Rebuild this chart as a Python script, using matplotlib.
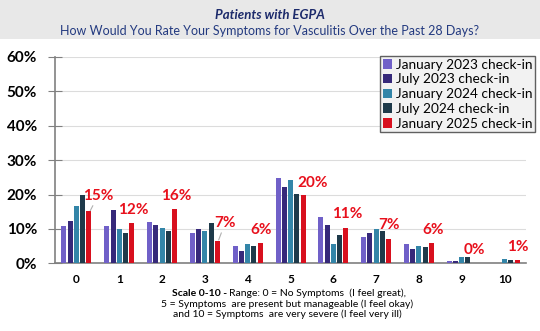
import numpy as np
import matplotlib.pyplot as plt
from matplotlib.patches import Rectangle

plt.rcParams['font.family'] = ['Lato', 'DejaVu Sans']

categories = ['0', '1', '2', '3', '4', '5', '6', '7', '8', '9', '10']
series_names = ['January 2023 check-in', 'July 2023 check-in', 'January 2024 check-in',
                'July 2024 check-in', 'January 2025 check-in']
jan23 = [10.9, 10.9, 12.1, 8.9, 5.1, 24.8, 13.4, 7.7, 5.7, 0.7, 0.0]
jul23 = [12.3, 15.5, 11.1, 10.0, 3.7, 22.3, 11.1, 8.7, 4.3, 0.7, 0.0]
jan24 = [16.8, 10.0, 10.4, 9.4, 5.5, 24.3, 5.5, 10.0, 4.9, 1.8, 1.3]
jul24 = [19.8, 8.7, 9.4, 11.6, 5.1, 20.2, 8.1, 9.4, 4.7, 1.7, 1.1]
jan25 = [15.1, 11.7, 15.7, 6.6, 5.9, 19.8, 10.4, 7.2, 6.0, 0.0, 1.1]
labels_2025 = ['15%', '12%', '16%', '7%', '6%', '20%', '11%', '7%', '6%', '0%', '1%']
# label positions (x offset from group centre, y in %)
label_x = [0.50, 0.33, 0.32, 0.47, 0.32, 0.52, 0.33, 0.30, 0.32, 0.30, 0.31]
label_y = [19.6, 15.5, 19.6, 11.7, 9.7, 23.4, 14.4, 11.2, 9.7, 3.9, 4.8]
leader = [True, False, False, True, False, False, False, False, False, False, False]

colors = ['#7060c8', '#36297a', '#3385a8', '#1e3a4a', '#d8101e']
all_series = [jan23, jul23, jan24, jul24, jan25]

fig = plt.figure(figsize=(5.4, 3.31), dpi=100)
fig.patches.append(Rectangle((0, 0.882), 1, 0.118, transform=fig.transFigure,
                             facecolor='#e8e8e8', edgecolor='none', zorder=0))
fig.text(0.5, 0.955, 'Patients with EGPA', ha='center', va='center',
         fontsize=9.5, fontweight='bold', fontstyle='italic', color='#1c2a6b')
fig.text(0.5, 0.906, 'How Would You Rate Your Symptoms for Vasculitis Over the Past 28 Days?',
         ha='center', va='center', fontsize=9, color='#233a80')

ax = fig.add_axes([0.102, 0.2045, 0.872, 0.6235])
x = np.arange(len(categories))
w = 0.146
for i, (vals, name, c) in enumerate(zip(all_series, series_names, colors)):
    ax.bar(x + (i - 2) * w, vals, width=w * 0.8, color=c, label=name, zorder=3)

for i in range(len(categories)):
    if leader[i]:
        ax.annotate(labels_2025[i], xy=(x[i] + 2 * w + 0.03, jan25[i] + 0.2),
                    xytext=(x[i] + label_x[i], label_y[i]), ha='center', va='center',
                    fontsize=11, fontweight='bold', color='#e8101c',
                    arrowprops=dict(arrowstyle='-', color='#b0b0b0', lw=0.8,
                                    shrinkA=9, shrinkB=0))
    else:
        ax.text(x[i] + label_x[i], label_y[i], labels_2025[i], ha='center', va='center',
                fontsize=11, fontweight='bold', color='#e8101c')

ax.set_xlim(-0.5, len(categories) - 0.5)
ax.set_ylim(0, 60)
ax.set_yticks(range(0, 61, 10))
ax.set_yticklabels([f'{v}%' for v in range(0, 61, 10)], fontsize=11, fontweight='bold')
ax.set_xticks(x)
ax.set_xticklabels(categories, fontsize=8.5, fontweight='bold')
ax.tick_params(axis='x', length=0, pad=8)
ax.tick_params(axis='y', direction='inout', length=10, color='#808080', pad=8)
ax.grid(axis='y', color='#dcdcdc', lw=0.8, zorder=0)
for s in ['top', 'right']:
    ax.spines[s].set_visible(False)
for s in ['left', 'bottom']:
    ax.spines[s].set_color('#808080')
    ax.spines[s].set_linewidth(1.2)

leg = ax.legend(loc='upper right', bbox_to_anchor=(1.02, 1.005), fontsize=9.8,
                frameon=True, fancybox=False, handlelength=0.7, handleheight=0.7,
                handletextpad=0.3, labelspacing=0.2, borderpad=0.2, borderaxespad=0)
leg.get_frame().set_facecolor('#f2f2f2')
leg.get_frame().set_edgecolor('#606060')
leg.get_frame().set_linewidth(1.0)
leg.get_frame().set_alpha(1)

# footnote: bold lead-in followed by regular text on the first line
t1 = fig.text(0.318, 0.113, 'Scale 0-10 - ', ha='left', va='center', fontsize=7.5,
              fontweight='bold')
fig.canvas.draw()
bb = t1.get_window_extent()
fig.text(bb.x1 / fig.bbox.width, 0.113,
         'Range: 0 = No Symptoms  (I feel great),', ha='left', va='center', fontsize=7.5)
fig.text(0.532, 0.082, '5 = Symptoms  are present but manageable (I feel okay)',
         ha='center', va='center', fontsize=7.5)
fig.text(0.532, 0.051, 'and 10 = Symptoms  are very severe (I feel very ill)',
         ha='center', va='center', fontsize=7.5)

fig.savefig('out.png', dpi=100)
